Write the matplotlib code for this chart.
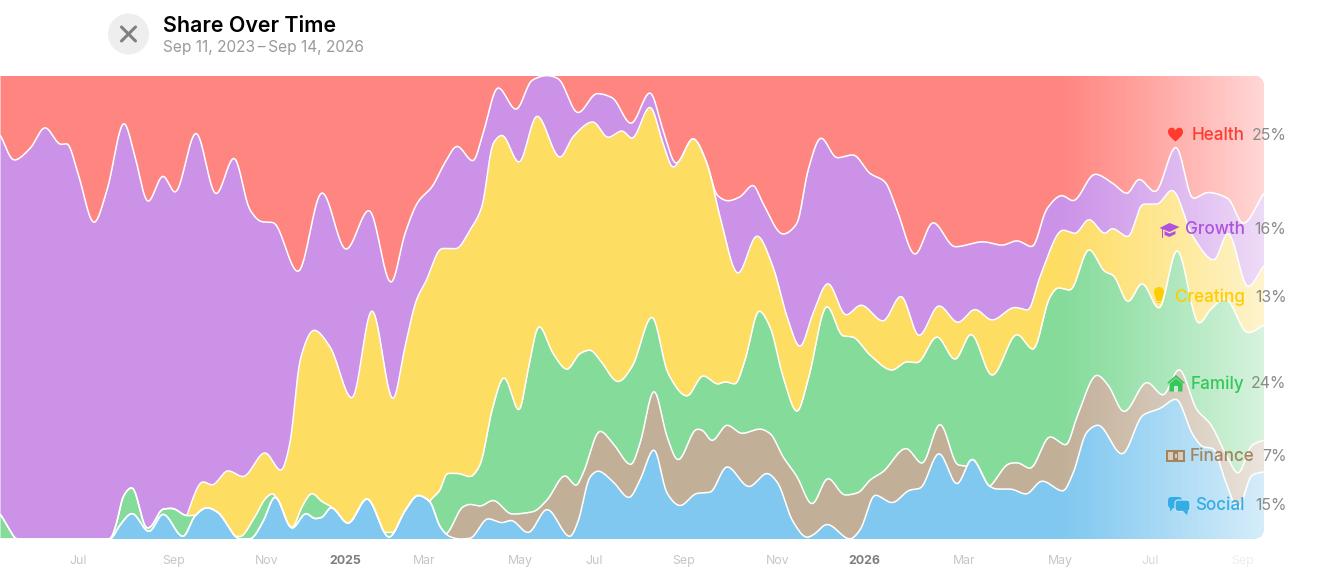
import numpy as np
import matplotlib
matplotlib.use("Agg")
import matplotlib.pyplot as plt
from matplotlib.patches import Circle, FancyBboxPatch, PathPatch, Rectangle, Polygon
from matplotlib.path import Path
from matplotlib.transforms import IdentityTransform

plt.rcParams['font.family'] = ['Inter', 'DejaVu Sans']

# Readings along the time axis: cumulative top of each stacked layer, on a scale where 1391 = 100 %
social_t = [0,110,120,132,149,163,183,195,207,217,240,250,263,275,292,306,315,322,331,348,367,389,405,418,430,440,450,460,470,488,502,511,528,547,570,578,590,598,613,629,640,654,667,680,697,710,727,749,767,777,793,807,813,827,850,860,875,892,910,920,939,957,972,990,997,1010,1026,1042,1063,1073,1087,1098,1122,1143,1160,1176,1193,1203,1213,1225,1238,1252,1264]
social_h = [0,0,42,77,22,75,7,70,94,82,0,0,52,127,32,77,61,65,95,47,121,5,85,131,112,37,7,0,2,61,49,56,19,89,7,52,187,204,172,124,177,269,137,100,137,140,217,157,197,172,52,5,12,44,0,27,132,109,147,152,257,165,240,157,150,150,135,174,144,197,322,342,255,372,392,420,312,277,272,177,92,192,202]

finance_t = [0,440,448,463,470,480,493,512,533,547,565,576,583,600,613,631,640,654,667,678,697,702,712,727,742,760,770,783,797,812,828,845,858,870,883,906,922,940,958,968,985,1010,1017,1030,1050,1066,1077,1097,1108,1124,1147,1163,1179,1197,1210,1227,1238,1252,1264]
finance_h = [0,0,20,97,104,99,116,75,82,117,190,160,197,324,287,223,287,445,307,237,330,327,295,342,317,330,317,247,187,105,182,132,139,177,202,272,227,345,222,218,150,227,229,212,307,282,367,492,462,382,470,432,509,387,347,247,197,282,297]

family_t = [0,7,17,110,117,123,132,147,150,163,172,187,197,207,225,240,253,267,273,280,292,302,312,322,331,345,415,430,440,447,457,470,480,492,504,519,528,539,553,567,580,590,600,618,632,652,668,687,703,718,725,735,745,759,770,783,797,808,827,843,852,870,892,907,917,937,955,971,992,1017,1033,1050,1058,1070,1089,1105,1113,1128,1142,1159,1177,1199,1210,1225,1248,1264]
family_h = [77,42,0,0,52,127,155,32,35,90,92,70,72,94,20,7,57,127,137,97,34,97,137,112,97,20,20,115,147,197,197,187,222,387,485,385,507,639,557,509,557,567,537,472,517,667,497,429,490,465,472,465,537,685,637,487,382,477,699,609,607,552,507,532,529,607,539,615,491,614,569,727,754,747,869,802,792,712,767,692,867,647,687,722,619,642]

creating_t = [0,180,187,203,212,228,243,265,281,290,300,314,330,352,372,393,405,417,425,442,456,470,482,493,502,519,537,560,573,593,608,622,632,650,663,673,680,693,707,720,738,757,773,787,800,813,828,846,861,883,901,919,939,958,975,992,1015,1028,1040,1063,1075,1089,1105,1112,1128,1143,1157,1172,1193,1214,1228,1248,1264]
creating_h = [0,0,72,172,162,205,187,259,205,287,537,627,577,422,687,419,577,722,767,872,871,927,997,1187,1212,1130,1270,1145,1207,1252,1205,1225,1202,1297,1187,1115,1137,1202,1127,967,797,910,817,667,577,677,767,672,702,654,729,610,700,650,689,657,695,687,787,927,917,959,917,932,907,1005,1005,1047,907,837,918,757,822]

growth_t = [0,14,30,45,61,67,78,94,107,124,135,148,163,175,196,216,234,250,262,273,298,322,346,369,391,405,418,432,445,457,473,483,498,516,532,547,558,578,597,612,631,650,663,676,693,707,717,728,740,753,763,783,797,808,821,837,853,870,885,897,915,933,955,983,1002,1017,1032,1047,1062,1073,1095,1113,1127,1139,1155,1176,1193,1208,1228,1243,1264]
growth_h = [1215,1137,1172,1235,1184,1187,1097,949,1047,1249,1147,1012,1090,1040,1219,1035,1144,987,952,950,802,1040,869,987,769,917,1012,1057,1130,1179,1134,1217,1355,1289,1377,1391,1382,1279,1337,1325,1247,1340,1227,1127,1202,1127,1032,1015,1027,1062,1007,915,947,1107,1204,1144,1153,1097,1072,987,854,950,877,892,882,895,877,992,1031,1015,1095,1067,1037,1080,1042,1177,1022,1040,1022,947,1039]

FULL_SCALE = 1391.0
layer_names = ['Social', 'Finance', 'Family', 'Creating', 'Growth', 'Health']
layer_colors = ['#80C8F0', '#C2AF98', '#84DB9A', '#FEDD63', '#CC92E8', '#FF8580']
text_colors = ['#32ADE6', '#A2845E', '#34C759', '#FFCC00', '#AF52DE', '#FF3B30']
latest_pct = ['15%', '7%', '24%', '13%', '16%', '25%']

tick_pos = [78, 174, 267, 345, 424, 520, 594, 684, 778, 864, 964, 1060, 1150, 1243]
tick_labels = ['Jul', 'Sep', 'Nov', '2025', 'Mar', 'May', 'Jul', 'Sep', 'Nov', '2026', 'Mar', 'May', 'Jul', 'Sep']
tick_colors = ['#C6C6C6'] * 3 + ['#7E7E7E'] + ['#C6C6C6'] * 5 + ['#7E7E7E'] + ['#C6C6C6'] * 2 + ['#DADADA', '#EFEFEF']

title = 'Share Over Time'
subtitle = 'Sep 11, 2023\u2009\u2013\u2009Sep 14, 2026'


def smooth(t, y, grid):
    """Monotone cubic Hermite curve through the readings, lightly rounded."""
    t = np.asarray(t, float)
    y = np.asarray(y, float)
    h = np.diff(t)
    d = np.diff(y) / h
    m = np.zeros_like(y)
    for i in range(1, len(y) - 1):
        if d[i - 1] * d[i] > 0:
            w1, w2 = 2 * h[i] + h[i - 1], h[i] + 2 * h[i - 1]
            m[i] = (w1 + w2) / (w1 / d[i - 1] + w2 / d[i])
    m[0], m[-1] = d[0], d[-1]
    idx = np.clip(np.searchsorted(t, grid, side='right') - 1, 0, len(h) - 1)
    s = (grid - t[idx]) / h[idx]
    out = ((2 * s**3 - 3 * s**2 + 1) * y[idx] + (s**3 - 2 * s**2 + s) * h[idx] * m[idx]
           + (-2 * s**3 + 3 * s**2) * y[idx + 1] + (s**3 - s**2) * h[idx] * m[idx + 1])
    step = grid[1] - grid[0]
    half = int(round(5 / step))
    kx = np.arange(-half, half + 1) * step
    kern = np.exp(-0.5 * (kx / 1.4) ** 2)
    kern /= kern.sum()
    padded = np.pad(out, half, mode='edge')
    return np.convolve(padded, kern, mode='valid')


W, H = 1320, 580
fig = plt.figure(figsize=(W / 100, H / 100), dpi=100, facecolor='white')
TOP, BOT, RIGHT = 75.5, 539.0, 1264.0
ax = fig.add_axes([0, 1 - BOT / H, RIGHT / W, (BOT - TOP) / H])

grid = np.linspace(0, RIGHT, 5057)
tops = []
prev = np.zeros_like(grid)
for tt, hh in [(social_t, social_h), (finance_t, finance_h), (family_t, family_h),
               (creating_t, creating_h), (growth_t, growth_h)]:
    cur = np.maximum(prev, np.clip(smooth(tt, hh, grid), 0, FULL_SCALE) / FULL_SCALE * 100)
    tops.append(cur)
    prev = cur
tops.append(np.full_like(grid, 100.0))

clip = FancyBboxPatch((-60, H - BOT), RIGHT + 60, BOT - TOP,
                      boxstyle='round,pad=0,rounding_size=12', transform=IdentityTransform(),
                      fc='none', ec='none')
fig.add_artist(clip)

lower = np.zeros_like(grid)
for name, col, top in zip(layer_names, layer_colors, tops):
    a = ax.fill_between(grid, lower, top, color=col, lw=0, zorder=2, label=name)
    a.set_clip_path(clip)
    lower = top
for top in tops[:-1]:
    l, = ax.plot(grid, top, color='white', lw=1.1, zorder=3, solid_capstyle='butt')
    l.set_clip_path(clip)

# white wash that fades out the most recent months
fade = np.zeros((2, 256, 4))
fade[..., :3] = 1.0
fade[..., 3] = 0.68 * np.linspace(0, 1, 256) ** 1.15
im = ax.imshow(fade, extent=(1055, RIGHT, 0, 100), aspect='auto', zorder=4, interpolation='bilinear')
im.set_clip_path(clip)

ax.set_xlim(0, RIGHT)
ax.set_ylim(0, 100)
ax.set_yticks([])
ax.set_xticks(tick_pos)
ax.set_xticklabels(tick_labels, fontsize=8.9)
ax.tick_params(axis='x', length=0, pad=11.5)
for lab, c, s in zip(ax.get_xticklabels(), tick_colors, tick_labels):
    lab.set_color(c)
    if s.startswith('20'):
        lab.set_fontweight('bold')
for sp in ax.spines.values():
    sp.set_visible(False)

# overlay in pixel coordinates for header, labels and icons
ov = fig.add_axes([0, 0, 1, 1], facecolor='none')
ov.set_xlim(0, W)
ov.set_ylim(H, 0)
ov.axis('off')

ov.add_patch(Circle((128.5, 34), 20.5, fc='#EEEEEE', ec='none'))
ov.plot([121.5, 135.5], [27, 41], color='#808080', lw=2.2, solid_capstyle='round')
ov.plot([121.5, 135.5], [41, 27], color='#808080', lw=2.2, solid_capstyle='round')
ov.text(163, 25.5, title, fontsize=15.4, fontweight='semibold', color='black', va='center', ha='left')
ov.text(163, 47.5, subtitle, fontsize=11.1, color='#9A9A9A', va='center', ha='left')

label_y = {'Health': 135, 'Growth': 230, 'Creating': 297, 'Family': 384, 'Finance': 456.5, 'Social': 506}
for name, tc, pct in zip(layer_names, text_colors, latest_pct):
    y = label_y[name]
    xr = 1254 if name == 'Finance' else 1244.5
    ov.text(xr, y, name, color=tc, fontsize=12.3, fontweight='medium', ha='right', va='center', zorder=6)
    ov.text(1286.5, y, pct, color='#8A8A8A', fontsize=11.4, ha='right', va='center', zorder=6)

C = dict(ec='none', zorder=6)
# heart
cx, cy = 1175.5, 134.5
heart = Path([(cx, cy + 7), (cx - 4, cy + 3.5), (cx - 7.5, cy + 1), (cx - 7.5, cy - 2.5),
              (cx - 7.5, cy - 8), (cx - 1.5, cy - 8), (cx, cy - 4),
              (cx + 1.5, cy - 8), (cx + 7.5, cy - 8), (cx + 7.5, cy - 2.5),
              (cx + 7.5, cy + 1), (cx + 4, cy + 3.5), (cx, cy + 7)],
             [Path.MOVETO] + [Path.CURVE4] * 12)
ov.add_patch(PathPatch(heart, fc=text_colors[5], **C))
# graduation cap
cx, cy = 1169.5, 228
ov.add_patch(Polygon([(cx - 10, cy), (cx, cy - 5), (cx + 10, cy - 1), (cx, cy + 4)], fc=text_colors[4], **C))
ov.add_patch(Polygon([(cx - 5, cy + 3), (cx, cy + 5.5), (cx + 6, cy + 3), (cx + 6, cy + 6), (cx, cy + 9), (cx - 5, cy + 7)], fc=text_colors[4], **C))
ov.add_patch(Rectangle((cx - 8, cy + 1), 1.6, 9, fc=text_colors[4], **C))
# light bulb
cx, cy = 1159, 292
ov.add_patch(Circle((cx, cy), 5, fc=text_colors[3], **C))
ov.add_patch(Polygon([(cx - 4.5, cy + 2), (cx + 4.5, cy + 2), (cx + 2.5, cy + 9), (cx - 2.5, cy + 9)], fc=text_colors[3], **C))
ov.add_patch(Rectangle((cx - 2.2, cy + 9.5), 4.4, 1.8, fc=text_colors[3], **C))
# house
cx, cy = 1176, 384
ov.add_patch(Polygon([(cx - 9, cy - 1), (cx, cy - 9), (cx + 9, cy - 1), (cx + 7, cy - 0.5), (cx, cy - 6.5), (cx - 7, cy - 0.5)], fc=text_colors[2], **C))
ov.add_patch(Polygon([(cx - 6.5, cy - 0.5), (cx, cy - 5.5), (cx + 6.5, cy - 0.5), (cx + 6.5, cy + 7.5), (cx - 6.5, cy + 7.5)], fc=text_colors[2], **C))
ov.add_patch(Rectangle((cx - 2, cy + 1.5), 4, 6, fc='#CDEBD4', ec='none', zorder=7))
# banknote
cx, cy = 1175.5, 455.5
ov.add_patch(Rectangle((cx - 9.5, cy - 6), 19, 12, fc=text_colors[1], **C))
ov.add_patch(Rectangle((cx - 7.5, cy - 4), 15, 8, fc='#D8CDBE', ec='none', zorder=7))
ov.add_patch(Rectangle((cx - 2.8, cy - 4), 5.6, 8, fc=text_colors[1], ec='none', zorder=8))
ov.add_patch(Rectangle((cx - 1, cy - 2), 2, 4, fc='#D8CDBE', ec='none', zorder=9))
# chat bubbles
cc = text_colors[0]
ov.add_patch(FancyBboxPatch((1168, 497), 14, 11, boxstyle='round,pad=0,rounding_size=3.5', fc=cc, **C))
ov.add_patch(Polygon([(1170, 507), (1174, 507), (1170, 511.5)], fc=cc, **C))
ov.add_patch(FancyBboxPatch((1175, 500), 15, 11.5, boxstyle='round,pad=0,rounding_size=3.5', fc=cc, ec='#C4E4F6', lw=0.9, zorder=7))
ov.add_patch(Polygon([(1183, 511), (1188, 511), (1187, 515)], fc=cc, ec='none', zorder=8))

fig.savefig('out.png', dpi=100, facecolor='white')
